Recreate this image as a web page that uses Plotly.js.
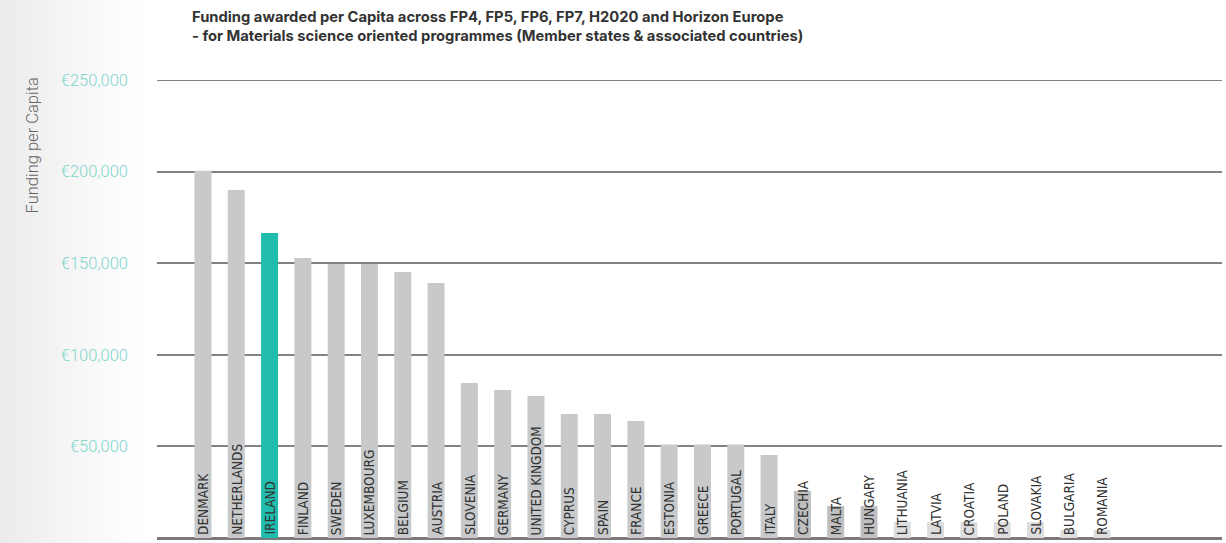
<!DOCTYPE html>
<html>
<head>
<meta charset="utf-8">
<script src="https://cdn.plot.ly/plotly-3.0.1.min.js"></script>
<style>
html, body { margin: 0; padding: 0; width: 1226px; height: 543px; overflow: hidden;
  background: linear-gradient(to right, #ebebeb 0px, #f4f4f4 60px, #fbfbfb 110px, #ffffff 150px); }
#chart { width: 1226px; height: 543px; }
</style>
</head>
<body>
<div id="chart"></div>
<script>
const countries = ["DENMARK","NETHERLANDS","IRELAND","FINLAND","SWEDEN","LUXEMBOURG","BELGIUM","AUSTRIA",
  "SLOVENIA","GERMANY","UNITED KINGDOM","CYPRUS","SPAIN","FRANCE","ESTONIA","GREECE","PORTUGAL","ITALY",
  "CZECHIA","MALTA","HUNGARY","LITHUANIA","LATVIA","CROATIA","POLAND","SLOVAKIA","BULGARIA","ROMANIA"];
const fundingPerCapita = [200500,190000,166500,152800,149600,149600,145200,139200,
  84600,80800,77500,67700,67700,63900,51000,51000,51000,45300,
  25700,17500,17500,8700,8700,8700,8700,8700,4400,4400];
const yTickValues = [0,50000,100000,150000,200000,250000];
const yTickLabels = ["€","€50,000","€100,000","€150,000","€200,000","€250,000"];
const highlight = "IRELAND";
const titleText = "Funding awarded per Capita across FP4, FP5, FP6, FP7, H2020 and Horizon Europe<br>- for Materials science oriented programmes (Member states & associated countries)";
const yTitle = "Funding per Capita";

const colors = countries.map((c, i) => {
  if (c === highlight) return "#20bcad";
  if (fundingPerCapita[i] < 12000) return "#dddddd";
  if (fundingPerCapita[i] < 30000) return "#bfbfbf";
  return "#c8c9ca";
});

const trace = {
  type: "bar",
  x: countries,
  y: fundingPerCapita,
  marker: { color: colors, line: { width: 0 } },
  width: 0.51,
  hoverinfo: "x+y"
};

const labelAnnotations = countries.map(c => ({
  x: c, y: 0, xref: "x", yref: "y",
  text: c, textangle: -90, showarrow: false,
  xanchor: "center", yanchor: "bottom", yshift: 1,
  font: { family: "DejaVu Sans Condensed, sans-serif", size: 13.5, color: "#333333" }
}));

const topY = yTickValues[yTickValues.length - 1];

const layout = {
  width: 1226, height: 543,
  margin: { l: 157, r: 4, t: 80, b: 5 },
  paper_bgcolor: "rgba(0,0,0,0)",
  plot_bgcolor: "rgba(0,0,0,0)",
  showlegend: false,
  xaxis: {
    type: "category",
    range: [-1.38, 30.6],
    showticklabels: false, showgrid: false, zeroline: false, showline: false, ticks: ""
  },
  yaxis: {
    range: [0, topY],
    tickvals: yTickValues, ticktext: yTickLabels,
    tickfont: { family: "Roboto, sans-serif", size: 16.5, color: "#7fd6cc", weight: 300 },
    ticklabelstandoff: 28,
    showgrid: true, gridcolor: "#828282", gridwidth: 2,
    zeroline: true, zerolinecolor: "#7a7a7a", zerolinewidth: 3,
    showline: false, ticks: ""
  },
  shapes: [
    { type: "line", xref: "paper", yref: "y", x0: 0, x1: 1, y0: topY, y1: topY,
      line: { color: "#828282", width: 2 }, layer: "below" }
  ],
  annotations: [
    {
      xref: "paper", yref: "paper", x: 0.031, y: 1.1616, xanchor: "left", yanchor: "top",
      text: titleText, showarrow: false, align: "left",
      font: { family: "Inter, sans-serif", size: 14.75, color: "#333333", weight: 700 }
    },
    {
      xref: "paper", yref: "paper", x: -0.116, y: 1.011, xanchor: "center", yanchor: "top",
      text: yTitle, textangle: -90, showarrow: false,
      font: { family: "Roboto, sans-serif", size: 16.5, color: "#666666", weight: 300 }
    }
  ].concat(labelAnnotations)
};

Plotly.newPlot("chart", [trace], layout, { displayModeBar: false, staticPlot: true });
</script>
</body>
</html>
